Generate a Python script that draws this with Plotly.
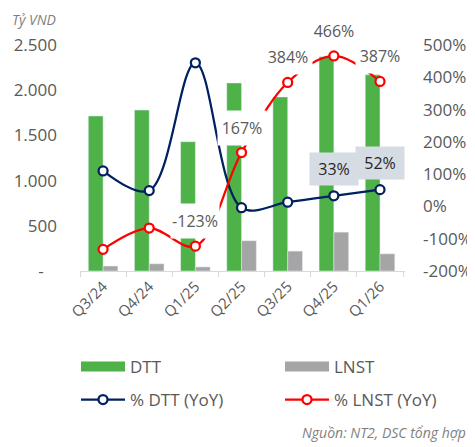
import plotly.graph_objects as go

quarters = ["Q3/24", "Q4/24", "Q1/25", "Q2/25", "Q3/25", "Q4/25", "Q1/26"]
dtt = [1715, 1780, 1430, 2080, 1925, 2370, 2170]
lnst = [55, 80, 45, 335, 220, 430, 190]
dtt_yoy = [110, 49, 445, -4, 13, 33, 52]
lnst_yoy = [-133, -67, -123, 167, 384, 466, 387]

left_ticks = [0, 500, 1000, 1500, 2000, 2500]
left_labels = ["-\u00a0\u00a0\u00a0", "500", "1.000", "1.500", "2.000", "2.500"]
right_ticks = [-200, -100, 0, 100, 200, 300, 400, 500]
right_labels = ["-200%", "-100%", "0%", "100%", "200%", "300%", "400%", "500%"]

lnst_label_idx = [2, 3, 4, 5, 6]
dtt_label_idx = [5, 6]

W, H = 475, 447
OFF = 8  # page body margin
ML, MT = 80 - OFF, 45 - OFF
PW, PH = 325, 226
MR, MB = W - ML - PW, H - MT - PH


def px(x):
    return (x - OFF - ML) / PW


def py(y):
    return (MT + PH - (y - OFF)) / PH


GREEN = "#4EB248"
GRAY = "#A5A5A5"
NAVY = "#002060"
RED = "#FF0000"
TXT = "#595959"
FONT = "Open Sans"

fig = go.Figure()
fig.add_trace(go.Bar(x=quarters, y=dtt, name="DTT", marker_color=GREEN,
                     showlegend=False, yaxis="y"))
fig.add_trace(go.Bar(x=quarters, y=lnst, name="LNST", marker_color=GRAY,
                     showlegend=False, yaxis="y"))
# legend-only entries for bars (wide rectangles)
fig.add_trace(go.Scatter(x=[None], y=[None], mode="lines", name="DTT",
                         line=dict(color=GREEN, width=10), legend="legend"))
fig.add_trace(go.Scatter(x=[None], y=[None], mode="lines", name="LNST",
                         line=dict(color=GRAY, width=10), legend="legend2"))
fig.add_trace(go.Scatter(x=quarters, y=dtt_yoy, name="% DTT (YoY)", yaxis="y2",
                         mode="lines+markers", legend="legend3",
                         line=dict(color=NAVY, width=2.25, shape="spline", smoothing=1),
                         marker=dict(symbol="circle", size=9, color="white",
                                     line=dict(color=NAVY, width=2.25))))
fig.add_trace(go.Scatter(x=quarters, y=lnst_yoy, name="% LNST (YoY)", yaxis="y2",
                         mode="lines+markers", legend="legend4",
                         line=dict(color=RED, width=2.25, shape="spline", smoothing=1),
                         marker=dict(symbol="circle", size=9, color="white",
                                     line=dict(color=RED, width=2.25))))

ann = []
for i in lnst_label_idx:
    ann.append(dict(x=quarters[i], y=lnst_yoy[i], xref="x", yref="y2",
                    text=f"{lnst_yoy[i]}%", showarrow=False, yshift=25,
                    bgcolor="white", width=46, height=32,
                    font=dict(family=FONT, size=16, color=TXT)))
for i in dtt_label_idx:
    ann.append(dict(x=quarters[i], y=dtt_yoy[i], xref="x", yref="y2",
                    text=f"{dtt_yoy[i]}%", showarrow=False, yshift=27,
                    bgcolor="#D6DCE4", width=46, height=30,
                    font=dict(family=FONT, size=16, color="#262626")))
ann.append(dict(x=px(10), y=py(OFF), xref="paper", yref="paper", xanchor="left",
                yanchor="top", text="<i>Tỷ VND</i>", showarrow=False,
                font=dict(family=FONT, size=14, color="#7F7F7F")))
ann.append(dict(x=px(300), y=py(432), xref="paper", yref="paper", xanchor="left",
                yanchor="middle", text="<i>Nguồn: NT2, DSC tổng hợp</i>", showarrow=False,
                font=dict(family=FONT, size=14, color="#7F7F7F")))

legend_common = dict(orientation="h", xanchor="left", yanchor="middle",
                     font=dict(family=FONT, size=17, color=TXT),
                     itemwidth=44, bgcolor="rgba(0,0,0,0)")

fig.update_layout(
    width=W, height=H,
    margin=dict(l=ML, r=MR, t=MT, b=MB, pad=0),
    paper_bgcolor="white", plot_bgcolor="white",
    barmode="group", bargap=0.36, bargroupgap=0,
    font=dict(family=FONT, size=16, color=TXT),
    xaxis=dict(type="category", showgrid=False, showline=True, linecolor="#D9D9D9",
               linewidth=1, ticks="outside", tickson="boundaries", ticklen=5,
               tickcolor="#D9D9D9", tickangle=-45, automargin=False,
               tickfont=dict(family=FONT, size=15, color=TXT)),
    yaxis=dict(range=[0, 2500], tickvals=left_ticks, ticktext=left_labels,
               showgrid=False, zeroline=False, showline=False, automargin=False,
               ticklabelstandoff=22,
               tickfont=dict(family=FONT, size=17, color=TXT)),
    yaxis2=dict(range=[-200, 500], tickvals=right_ticks, ticktext=right_labels,
                overlaying="y", side="right", showgrid=False, zeroline=False,
                showline=False, ticklabelstandoff=17, automargin=False,
                tickfont=dict(family=FONT, size=17, color=TXT)),
    legend=dict(x=px(76), y=py(367), **legend_common),
    legend2=dict(x=px(280), y=py(367), **legend_common),
    legend3=dict(x=px(76), y=py(400), **legend_common),
    legend4=dict(x=px(280), y=py(400), **legend_common),
    annotations=ann,
)

fig.write_html("out.html")
